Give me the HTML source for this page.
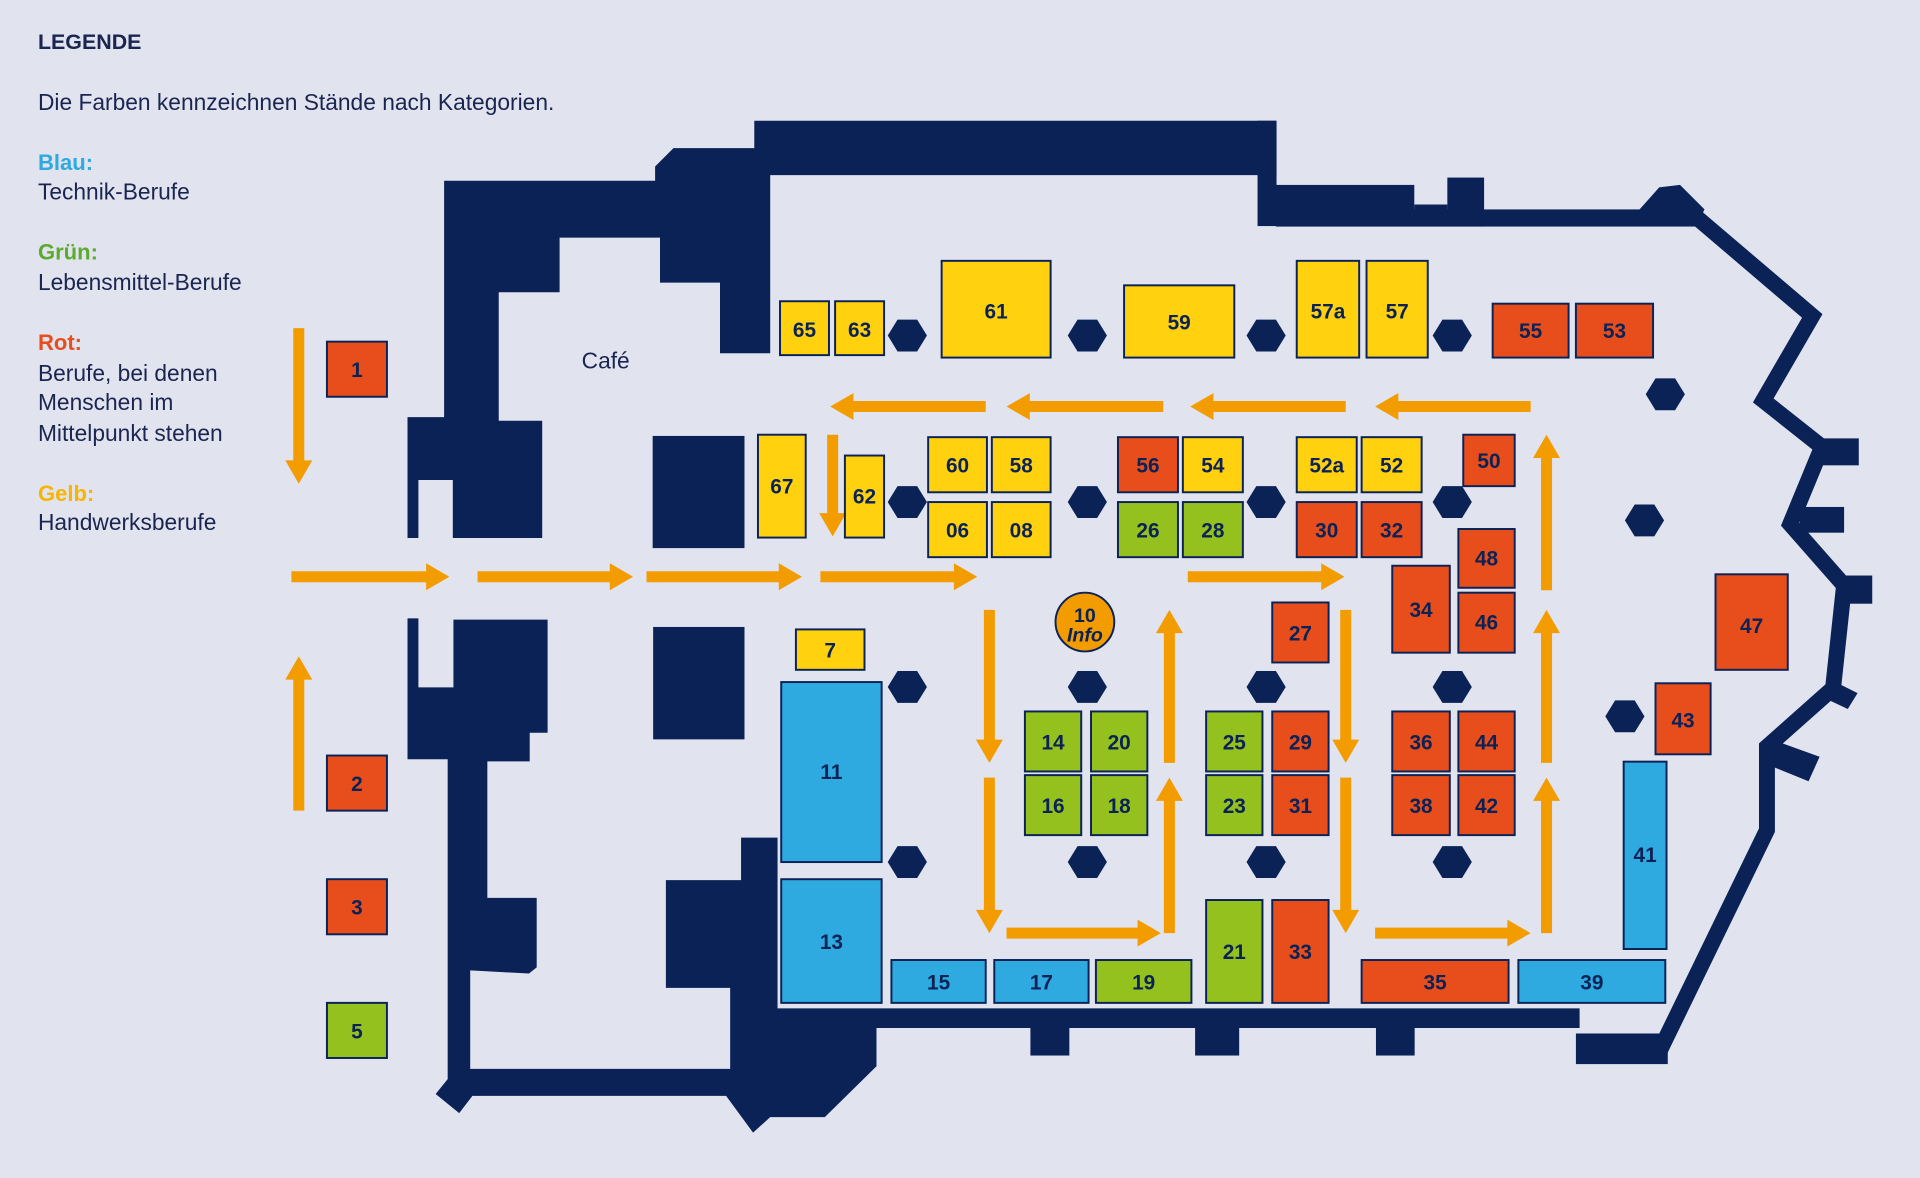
<!DOCTYPE html>
<html><head><meta charset="utf-8"><style>
html,body{margin:0;padding:0;background:#e1e3ef;}
svg{display:block}
.w{fill:#0b2256}
.b rect{stroke:#0b2256;stroke-width:1.6}
.y{fill:#ffd10f}.r{fill:#e84e1b}.g{fill:#95c11f}.u{fill:#2eaae1}
.t{font-family:"Liberation Sans",sans-serif;font-weight:bold;font-size:17px;fill:#0b2256;text-anchor:middle}
.a{stroke:#f39c00;stroke-width:9;fill:none}
.h{fill:#f39c00}
.lg{font-family:"Liberation Sans",sans-serif;font-size:18.6px;fill:#1a2550}
</style></head><body>
<svg width="1920" height="1178" viewBox="0 0 1568 962" xmlns="http://www.w3.org/2000/svg">
<rect width="1568" height="962" fill="#e1e3ef"/>
<!-- legend -->
<text class="lg" x="31" y="40" font-weight="bold" style="font-size:17.5px">LEGENDE</text>
<text class="lg" x="31" y="90">Die Farben kennzeichnen Stände nach Kategorien.</text>
<text class="lg" x="31" y="139" font-weight="bold" style="fill:#2eaae1;font-size:18px">Blau:</text>
<text class="lg" x="31" y="163">Technik-Berufe</text>
<text class="lg" x="31" y="212" font-weight="bold" style="fill:#5aab2e;font-size:18px">Grün:</text>
<text class="lg" x="31" y="237">Lebensmittel-Berufe</text>
<text class="lg" x="31" y="286" font-weight="bold" style="fill:#e84e1b;font-size:18px">Rot:</text>
<text class="lg" x="31" y="311">Berufe, bei denen</text>
<text class="lg" x="31" y="335">Menschen im</text>
<text class="lg" x="31" y="360">Mittelpunkt stehen</text>
<text class="lg" x="31" y="409" font-weight="bold" style="fill:#f7b500;font-size:18px">Gelb:</text>
<text class="lg" x="31" y="433">Handwerksberufe</text>
<text class="lg" x="475" y="301">Café</text>

<!-- walls -->
<polygon class="w" points="362.7,147.6 535,147.6 535,136 550,121 616,121 616,98.6 1042.5,98.6 1042.5,143 629,143 629,288.5 588,288.5 588,230.8 539,230.8 539,194 457,194 457,238.7 407.3,238.7 407.3,343.6 442.8,343.6 442.8,439.4 369.8,439.4 369.8,392 341.7,392 341.7,439.4 332.8,439.4 332.8,340.6 362.7,340.6"/>
<rect class="w" x="1027" y="98.6" width="15.5" height="86"/>
<rect class="w" x="1042" y="171" width="343" height="14"/>
<rect class="w" x="1042" y="151" width="113" height="34"/>
<rect class="w" x="1155" y="167" width="27" height="18"/>
<rect class="w" x="1182" y="145" width="30" height="40"/>
<polygon class="w" points="1339,185 1339,171 1355,153 1372,151 1392,171 1385,185"/>
<polyline points="1365,160 1480,258 1440,327 1488,365 1462,428 1506,478 1497,562 1443,610 1443,678 1356,857" fill="none" stroke="#0b2256" stroke-width="13" stroke-linejoin="miter"/>
<rect class="w" x="1486" y="358" width="32" height="22"/>
<rect class="w" x="1470" y="414" width="36" height="21"/>
<rect class="w" x="1500" y="470" width="29" height="23"/>
<polygon class="w" points="1495,555 1517,566 1509,579 1490,570"/>
<polygon class="w" points="1450,605 1486,618 1477,638 1445,625"/>
<rect class="w" x="1287" y="844" width="75" height="25"/>
<polygon class="w" points="332.8,505 341.7,505 341.7,561.3 370.3,561.3 370.3,506 447.2,506 447.2,598.4 432.6,598.4 432.6,621.8 398,621.8 398,733.2 438.3,733.2 438.3,790 432,795 384,792.5 384,872.9 596.3,872.9 596.3,806.7 543.8,806.7 543.8,718.8 605.2,718.8 605.2,684 635,684 635,823.5 1290,823.5 1290,839.5 715.8,839.5 715.8,870.8 673.6,912.3 629,912.3 615,925 593,894.9 385.8,894.9 375,909 355.8,893.4 365.6,881.3 365.6,620 332.8,620"/>
<rect class="w" x="533" y="356" width="75" height="91.6"/>
<rect class="w" x="533.4" y="512" width="74.6" height="91.8"/>
<rect class="w" x="841.5" y="838" width="31.8" height="24"/>
<rect class="w" x="976" y="838" width="36" height="24"/>
<rect class="w" x="1123.7" y="838" width="31.6" height="24"/>

<!-- hexagons -->
<g class="w">
<polygon points="-16,0 -8,-13 8,-13 16,0 8,13 -8,13" transform="translate(741,274)"/>
<polygon points="-16,0 -8,-13 8,-13 16,0 8,13 -8,13" transform="translate(888,274)"/>
<polygon points="-16,0 -8,-13 8,-13 16,0 8,13 -8,13" transform="translate(1034,274)"/>
<polygon points="-16,0 -8,-13 8,-13 16,0 8,13 -8,13" transform="translate(1186,274)"/>
<polygon points="-16,0 -8,-13 8,-13 16,0 8,13 -8,13" transform="translate(741,410)"/>
<polygon points="-16,0 -8,-13 8,-13 16,0 8,13 -8,13" transform="translate(888,410)"/>
<polygon points="-16,0 -8,-13 8,-13 16,0 8,13 -8,13" transform="translate(1034,410)"/>
<polygon points="-16,0 -8,-13 8,-13 16,0 8,13 -8,13" transform="translate(1186,410)"/>
<polygon points="-16,0 -8,-13 8,-13 16,0 8,13 -8,13" transform="translate(741,561)"/>
<polygon points="-16,0 -8,-13 8,-13 16,0 8,13 -8,13" transform="translate(888,561)"/>
<polygon points="-16,0 -8,-13 8,-13 16,0 8,13 -8,13" transform="translate(1034,561)"/>
<polygon points="-16,0 -8,-13 8,-13 16,0 8,13 -8,13" transform="translate(1186,561)"/>
<polygon points="-16,0 -8,-13 8,-13 16,0 8,13 -8,13" transform="translate(741,704)"/>
<polygon points="-16,0 -8,-13 8,-13 16,0 8,13 -8,13" transform="translate(888,704)"/>
<polygon points="-16,0 -8,-13 8,-13 16,0 8,13 -8,13" transform="translate(1034,704)"/>
<polygon points="-16,0 -8,-13 8,-13 16,0 8,13 -8,13" transform="translate(1186,704)"/>
<polygon points="-16,0 -8,-13 8,-13 16,0 8,13 -8,13" transform="translate(1360,322)"/>
<polygon points="-16,0 -8,-13 8,-13 16,0 8,13 -8,13" transform="translate(1343,425)"/>
<polygon points="-16,0 -8,-13 8,-13 16,0 8,13 -8,13" transform="translate(1327,585)"/>
</g>

<!-- arrows -->
<g>
<line class="a" x1="238" y1="471" x2="350" y2="471"/><polygon class="h" points="348,460 367,471 348,482"/>
<line class="a" x1="390" y1="471" x2="500" y2="471"/><polygon class="h" points="498,460 517,471 498,482"/>
<line class="a" x1="528" y1="471" x2="638" y2="471"/><polygon class="h" points="636,460 655,471 636,482"/>
<line class="a" x1="670" y1="471" x2="781" y2="471"/><polygon class="h" points="779,460 798,471 779,482"/>
<line class="a" x1="970" y1="471" x2="1081" y2="471"/><polygon class="h" points="1079,460 1098,471 1079,482"/>
<line class="a" x1="822" y1="762" x2="931" y2="762"/><polygon class="h" points="929,751 948,762 929,773"/>
<line class="a" x1="1123" y1="762" x2="1233" y2="762"/><polygon class="h" points="1231,751 1250,762 1231,773"/>
<line class="a" x1="805" y1="332" x2="695" y2="332"/><polygon class="h" points="697,321 678,332 697,343"/>
<line class="a" x1="950" y1="332" x2="839" y2="332"/><polygon class="h" points="841,321 822,332 841,343"/>
<line class="a" x1="1099" y1="332" x2="989" y2="332"/><polygon class="h" points="991,321 972,332 991,343"/>
<line class="a" x1="1250" y1="332" x2="1140" y2="332"/><polygon class="h" points="1142,321 1123,332 1142,343"/>
<line class="a" x1="244" y1="268" x2="244" y2="378"/><polygon class="h" points="233,376 244,395 255,376"/>
<line class="a" x1="680" y1="355" x2="680" y2="421"/><polygon class="h" points="669,419 680,438 691,419"/>
<line class="a" x1="808" y1="498" x2="808" y2="606"/><polygon class="h" points="797,604 808,623 819,604"/>
<line class="a" x1="808" y1="635" x2="808" y2="745"/><polygon class="h" points="797,743 808,762 819,743"/>
<line class="a" x1="1099" y1="498" x2="1099" y2="606"/><polygon class="h" points="1088,604 1099,623 1110,604"/>
<line class="a" x1="1099" y1="635" x2="1099" y2="745"/><polygon class="h" points="1088,743 1099,762 1110,743"/>
<line class="a" x1="244" y1="662" x2="244" y2="553"/><polygon class="h" points="233,555 244,536 255,555"/>
<line class="a" x1="955" y1="623" x2="955" y2="515"/><polygon class="h" points="944,517 955,498 966,517"/>
<line class="a" x1="955" y1="762" x2="955" y2="652"/><polygon class="h" points="944,654 955,635 966,654"/>
<line class="a" x1="1263" y1="482" x2="1263" y2="372"/><polygon class="h" points="1252,374 1263,355 1274,374"/>
<line class="a" x1="1263" y1="623" x2="1263" y2="515"/><polygon class="h" points="1252,517 1263,498 1274,517"/>
<line class="a" x1="1263" y1="762" x2="1263" y2="652"/><polygon class="h" points="1252,654 1263,635 1274,654"/>
</g>

<!-- booths -->
<g class="b">
<rect class="r" x="267" y="279" width="49" height="45"/>
<rect class="r" x="267" y="617" width="49" height="45"/>
<rect class="r" x="267" y="718" width="49" height="45"/>
<rect class="g" x="267" y="819" width="49" height="45"/>
<rect class="y" x="637" y="246" width="40" height="44"/>
<rect class="y" x="682" y="246" width="40" height="44"/>
<rect class="y" x="769" y="213" width="89" height="79"/>
<rect class="y" x="918" y="233" width="90" height="59"/>
<rect class="y" x="1059" y="213" width="51" height="79"/>
<rect class="y" x="1116" y="213" width="50" height="79"/>
<rect class="r" x="1219" y="248" width="62" height="44"/>
<rect class="r" x="1287" y="248" width="63" height="44"/>
<rect class="y" x="619" y="355" width="39" height="84"/>
<rect class="y" x="690" y="372" width="32" height="67"/>
<rect class="y" x="758" y="357" width="48" height="45"/>
<rect class="y" x="810" y="357" width="48" height="45"/>
<rect class="y" x="758" y="410" width="48" height="45"/>
<rect class="y" x="810" y="410" width="48" height="45"/>
<rect class="r" x="913" y="357" width="49" height="45"/>
<rect class="y" x="966" y="357" width="49" height="45"/>
<rect class="g" x="913" y="410" width="49" height="45"/>
<rect class="g" x="966" y="410" width="49" height="45"/>
<rect class="y" x="1059" y="357" width="49" height="45"/>
<rect class="y" x="1112" y="357" width="49" height="45"/>
<rect class="r" x="1059" y="410" width="49" height="45"/>
<rect class="r" x="1112" y="410" width="49" height="45"/>
<rect class="r" x="1195" y="355" width="42" height="42"/>
<rect class="r" x="1191" y="432" width="46" height="48"/>
<rect class="r" x="1191" y="484" width="46" height="49"/>
<rect class="r" x="1137" y="462" width="47" height="71"/>
<rect class="r" x="1039" y="492" width="46" height="49"/>
<rect class="y" x="650" y="514" width="56" height="33"/>
<rect class="u" x="638" y="557" width="82" height="147"/>
<rect class="u" x="638" y="718" width="82" height="101"/>
<rect class="g" x="837" y="581" width="46" height="49"/>
<rect class="g" x="891" y="581" width="46" height="49"/>
<rect class="g" x="837" y="633" width="46" height="49"/>
<rect class="g" x="891" y="633" width="46" height="49"/>
<rect class="g" x="985" y="581" width="46" height="49"/>
<rect class="r" x="1039" y="581" width="46" height="49"/>
<rect class="g" x="985" y="633" width="46" height="49"/>
<rect class="r" x="1039" y="633" width="46" height="49"/>
<rect class="r" x="1137" y="581" width="47" height="49"/>
<rect class="r" x="1191" y="581" width="46" height="49"/>
<rect class="r" x="1137" y="633" width="47" height="49"/>
<rect class="r" x="1191" y="633" width="46" height="49"/>
<rect class="g" x="985" y="735" width="46" height="84"/>
<rect class="r" x="1039" y="735" width="46" height="84"/>
<rect class="u" x="728" y="784" width="77" height="35"/>
<rect class="u" x="812" y="784" width="77" height="35"/>
<rect class="g" x="895" y="784" width="78" height="35"/>
<rect class="r" x="1112" y="784" width="120" height="35"/>
<rect class="u" x="1240" y="784" width="120" height="35"/>
<rect class="u" x="1326" y="622" width="35" height="153"/>
<rect class="r" x="1352" y="558" width="45" height="58"/>
<rect class="r" x="1401" y="469" width="59" height="78"/>
</g>
<circle cx="886" cy="508" r="24" fill="#f39c00" stroke="#0b2256" stroke-width="1.6"/>

<g class="t">
<text x="291.5" y="308">1</text><text x="291.5" y="646">2</text><text x="291.5" y="747">3</text><text x="291.5" y="848">5</text>
<text x="657" y="275">65</text><text x="702" y="275">63</text><text x="813.5" y="260">61</text><text x="963" y="269">59</text>
<text x="1084.5" y="260">57a</text><text x="1141" y="260">57</text><text x="1250" y="276">55</text><text x="1318.5" y="276">53</text>
<text x="638.5" y="403">67</text><text x="706" y="411">62</text>
<text x="782" y="386">60</text><text x="834" y="386">58</text><text x="782" y="439">06</text><text x="834" y="439">08</text>
<text x="937.5" y="386">56</text><text x="990.5" y="386">54</text><text x="937.5" y="439">26</text><text x="990.5" y="439">28</text>
<text x="1083.5" y="386">52a</text><text x="1136.5" y="386">52</text><text x="1083.5" y="439">30</text><text x="1136.5" y="439">32</text>
<text x="1216" y="382">50</text><text x="1214" y="462">48</text><text x="1214" y="514">46</text><text x="1160.5" y="504">34</text>
<text x="1062" y="523">27</text><text x="678" y="537">7</text><text x="679" y="636">11</text><text x="679" y="775">13</text>
<text x="860" y="612">14</text><text x="914" y="612">20</text><text x="860" y="664">16</text><text x="914" y="664">18</text>
<text x="1008" y="612">25</text><text x="1062" y="612">29</text><text x="1008" y="664">23</text><text x="1062" y="664">31</text>
<text x="1160.5" y="612">36</text><text x="1214" y="612">44</text><text x="1160.5" y="664">38</text><text x="1214" y="664">42</text>
<text x="1008" y="783">21</text><text x="1062" y="783">33</text>
<text x="766.5" y="808">15</text><text x="850.5" y="808">17</text><text x="934" y="808">19</text>
<text x="1172" y="808">35</text><text x="1300" y="808">39</text><text x="1343.5" y="704">41</text>
<text x="1374.5" y="594">43</text><text x="1430.5" y="517">47</text>
<text x="886" y="508" font-size="16">10</text><text x="886" y="524" font-size="16" font-style="italic">Info</text>
</g>
</svg>
</body></html>
